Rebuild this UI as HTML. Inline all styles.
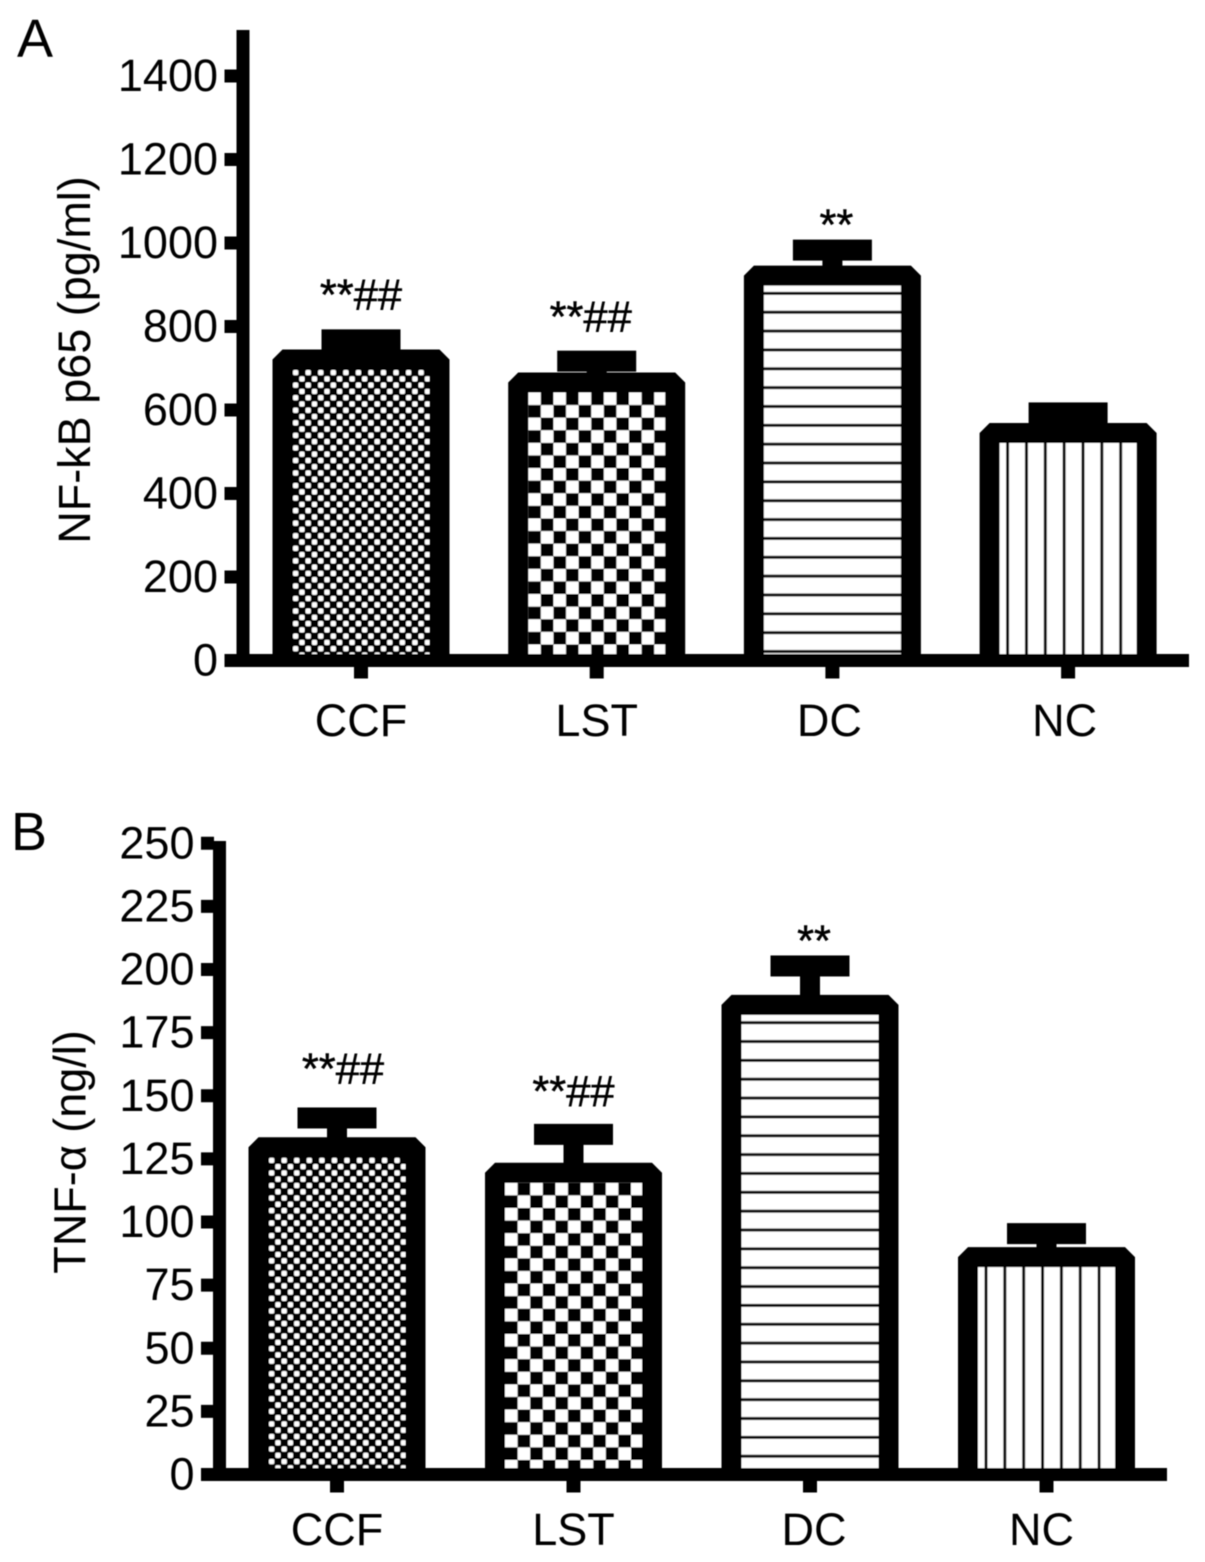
<!DOCTYPE html>
<html lang="en">
<head>
<meta charset="utf-8">
<title>NF-kB p65 and TNF-alpha bar charts</title>
<style>
html,body{margin:0;padding:0;background:#fff;width:1205px;height:1562px;overflow:hidden}
svg{display:block}
text{font-family:"Liberation Sans",sans-serif;fill:#000}
</style>
</head>
<body>
<svg id="chart" xmlns="http://www.w3.org/2000/svg" width="1205" height="1562" viewBox="0 0 1205 1562">
  <defs>
    <filter id="soft" x="0" y="0" width="1205" height="1562" filterUnits="userSpaceOnUse">
      <feGaussianBlur stdDeviation="0.65"/>
    </filter>
  </defs>
  <rect width="1205" height="1562" fill="#fff"/>
  <g id="root" filter="url(#soft)"></g>
</svg>
<script>
const categories = ['CCF', 'LST', 'DC', 'NC'];
const patternKinds = ['dots', 'checks', 'hlines', 'vlines'];
const nfkbMeans = [721, 666, 922, 545];
const nfkbErrors = [47, 51, 61, 48];
const nfkbTicks = [0, 200, 400, 600, 800, 1000, 1200, 1400];
const nfkbLabels = ['**##', '**##', '**', ''];
const tnfMeans = [129.6, 119.5, 186, 86.1];
const tnfErrors = [11.6, 15.2, 15.4, 9.3];
const tnfTicks = [0, 25, 50, 75, 100, 125, 150, 175, 200, 225, 250];
const tnfLabels = ['**##', '**##', '**', ''];

const NS = 'http://www.w3.org/2000/svg';
const root = document.getElementById('root');
const defs = document.querySelector('defs');

function make(tag, attrs, parent) {
  const node = document.createElementNS(NS, tag);
  for (const key in attrs) node.setAttribute(key, attrs[key]);
  (parent || root).appendChild(node);
  return node;
}

function makePattern(id, kind, x0, y0) {
  let size = [12.55, 12.55];
  if (kind === 'checks') size = [25.2, 25.2];
  if (kind === 'hlines') size = [10, 18.85];
  if (kind === 'vlines') size = [18.85, 10];
  const p = make('pattern', { id: id, patternUnits: 'userSpaceOnUse', x: x0, y: y0, width: size[0], height: size[1] }, defs);
  if (kind === 'dots') {
    make('rect', { width: 12.55, height: 12.55, fill: '#000' }, p);
    make('rect', { x: 0.5, y: 0.5, width: 5.3, height: 5.3, rx: 1.6, fill: '#fff' }, p);
    make('rect', { x: 6.77, y: 6.77, width: 5.3, height: 5.3, rx: 1.6, fill: '#fff' }, p);
  } else if (kind === 'checks') {
    make('rect', { width: 25.2, height: 25.2, fill: '#fff' }, p);
    make('rect', { x: 12.6, y: 0, width: 12.6, height: 12.6, fill: '#000' }, p);
    make('rect', { x: 0, y: 12.6, width: 12.6, height: 12.6, fill: '#000' }, p);
  } else if (kind === 'hlines') {
    make('rect', { width: 10, height: 18.85, fill: '#fff' }, p);
    make('rect', { x: 0, y: 6.3, width: 10, height: 3, fill: '#111' }, p);
  } else {
    make('rect', { width: 18.85, height: 10, fill: '#fff' }, p);
    make('rect', { x: 6.5, y: 0, width: 3, height: 10, fill: '#111' }, p);
  }
  return id;
}

function drawPanel(cfg) {
  const panel = make('g', {});
  
  

  const yScale = v => cfg.y0 - v * cfg.pxPerUnit;
  const xScale = i => cfg.x0 + i * cfg.step;
  const axisW = 13;
  const halfBar = 78.5;
  const sw = 20;

  // bars
  cfg.means.forEach((m, i) => {
    const cx = xScale(i);
    const top = yScale(m);
    const capY = yScale(m + cfg.errors[i]);
    const g = make('g', {}, panel);
    
    

    const pid = makePattern(cfg.id + '-p' + i, patternKinds[i], cx - halfBar + sw / 2, top + sw / 2);

    const stem = make('rect', { x: cx - 10, y: capY, width: 20, height: top - capY, fill: '#000' }, g);
    
    

    const cap = make('rect', { x: cx - 39.5, y: capY - 10.5, width: 79, height: 21, fill: '#000' }, g);
    
    

    const d = 'M' + (cx - halfBar) + ' ' + cfg.y0 + 'V' + top + 'H' + (cx + halfBar) + 'V' + cfg.y0;
    const body = make('path', { d: d, fill: 'url(#' + pid + ')', stroke: '#000', 'stroke-width': sw, 'stroke-linejoin': 'bevel', 'stroke-linecap': 'butt' }, g);
    
    
  });

  // y axis
  const yLine = make('rect', { x: cfg.axisX - axisW / 2, y: cfg.axisTop, width: axisW, height: cfg.y0 - cfg.axisTop, fill: '#000' }, panel);
  
  

  cfg.ticks.forEach(t => {
    const y = yScale(t);
    const tick = make('rect', { x: cfg.axisX - axisW / 2 - 12, y: y - 6.5, width: 13, height: 13, fill: '#000' }, panel);
    
    
    const label = make('text', { x: cfg.axisX - 25, y: y + 15, 'text-anchor': 'end', 'font-size': cfg.fontSize }, panel);
    label.textContent = String(t);
    
    
  });

  // x axis
  const xLine = make('rect', { x: cfg.axisX - axisW / 2 - 12, y: cfg.y0 - 6.5, width: cfg.axisEnd - (cfg.axisX - axisW / 2 - 12), height: 13, fill: '#000' }, panel);
  
  

  categories.forEach((c, i) => {
    const cx = xScale(i);
    const tick = make('rect', { x: cx - 7, y: cfg.y0 + 5, width: 14, height: 13, fill: '#000' }, panel);
    
    
    const label = make('text', { x: cx + cfg.catDx[i], y: cfg.catY, 'text-anchor': 'middle', 'font-size': cfg.fontSize }, panel);
    label.textContent = c;
    
    
  });

  // significance markers
  cfg.sig.forEach((s, i) => {
    if (!s) return;
    const capTop = yScale(cfg.means[i] + cfg.errors[i]) - 10.5;
    const t = make('text', { x: xScale(i) + cfg.sigDx[i], y: capTop + cfg.sigDy[i], 'text-anchor': 'middle', 'font-size': 43.5, stroke: '#000', 'stroke-width': 0.5 }, panel);
    t.textContent = s;
    
    
  });

  // axis title
  const title = make('text', { transform: 'translate(' + cfg.titleX + ' ' + cfg.titleY + ') rotate(-90)', 'text-anchor': 'middle', 'font-size': cfg.fontSize }, panel);
  
  
  title.textContent = cfg.title;

  const letter = make('text', { x: cfg.letterX, y: cfg.letterY, 'font-size': 54 }, panel);
  letter.textContent = cfg.letter;
  
  
}

drawPanel({
  id: 'a', name: 'panel-a-nfkb', means: nfkbMeans, errors: nfkbErrors, ticks: nfkbTicks, sig: nfkbLabels,
  y0: 660.5, pxPerUnit: 0.4175, x0: 361, step: 235.7, axisX: 243, axisTop: 30, axisEnd: 1189,
  catY: 736, fontSize: 45, catDx: [0, 0, -3, -3.5], sigDx: [0, -6, 4, 0], sigDy: [-20, -19, 0, 0],
  title: 'NF-kB p65 (pg/ml)', titleX: 90, titleY: 360, letter: 'A', letterX: 17, letterY: 57
});
drawPanel({
  id: 'b', name: 'panel-b-tnf', means: tnfMeans, errors: tnfErrors, ticks: tnfTicks, sig: tnfLabels,
  y0: 1474.5, pxPerUnit: 2.525, x0: 337, step: 236.5, axisX: 219.5, axisTop: 841, axisEnd: 1167,
  catY: 1545, fontSize: 45, catDx: [0, 0, 4, -5], sigDx: [6, 0, 4, 0], sigDy: [-24, -18, 0, 0],
  title: 'TNF-\u03B1 (ng/l)', titleX: 85.5, titleY: 1152, letter: 'B', letterX: 11, letterY: 850
});
</script>
</body>
</html>
